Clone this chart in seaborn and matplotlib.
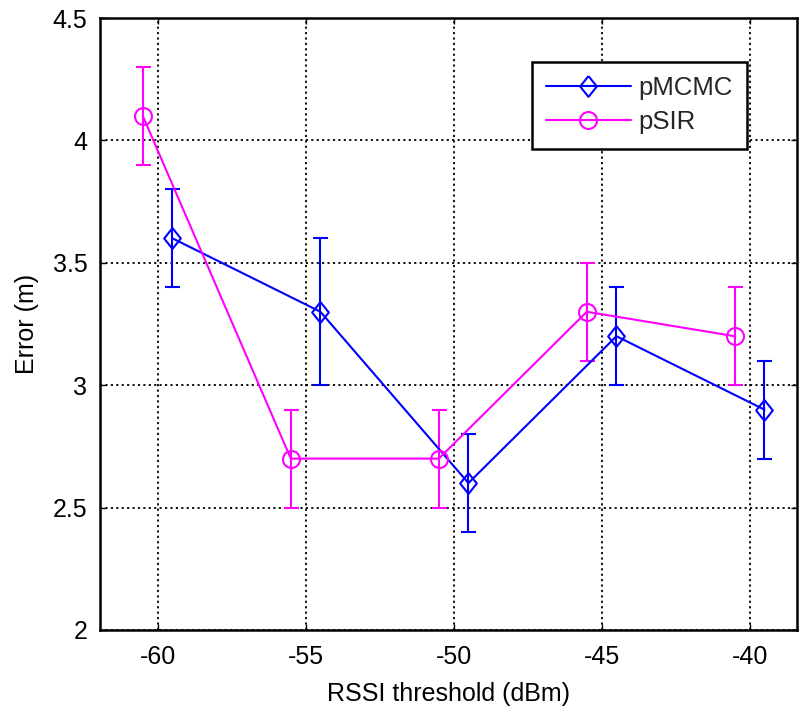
import matplotlib
matplotlib.use("Agg")
import matplotlib.pyplot as plt
import seaborn as sns
import pandas as pd

sns.set_theme(style="white")
plt.rcParams['font.family'] = ['Liberation Sans', 'DejaVu Sans']
plt.rcParams['axes.unicode_minus'] = False

mcmc_x = [-59.5, -54.5, -49.5, -44.5, -39.5]
mcmc_y = [3.6, 3.3, 2.6, 3.2, 2.9]
mcmc_err = [0.2, 0.3, 0.2, 0.2, 0.2]
sir_x = [-60.5, -55.5, -50.5, -45.5, -40.5]
sir_y = [4.1, 2.7, 2.7, 3.3, 3.2]
sir_err = [0.2, 0.2, 0.2, 0.2, 0.2]
xticks = [-60, -55, -50, -45, -40]
yticks = [2, 2.5, 3, 3.5, 4, 4.5]

df = pd.concat([
    pd.DataFrame({"x": mcmc_x, "y": mcmc_y, "s": "pMCMC"}),
    pd.DataFrame({"x": sir_x, "y": sir_y, "s": "pSIR"}),
])

fig = plt.figure(figsize=(7.99, 7.07), dpi=100)
ax = fig.add_axes([0.125, 0.109, 0.8725, 0.8655])

diamond = [(0, 1), (0.8, 0), (0, -1), (-0.8, 0), (0, 1)]
colors = {"pMCMC": "#0000ff", "pSIR": "#ff00ff"}
sns.lineplot(data=df, x="x", y="y", hue="s", style="s", palette=colors,
             markers={"pMCMC": "D", "pSIR": "o"}, dashes=False,
             markersize=12, markeredgewidth=1.5,
             linewidth=1.5, ax=ax, zorder=4)


def style_line(line):
    line.set_markerfacecolor("none")
    line.set_markeredgecolor(line.get_color())
    line.set_markeredgewidth(1.5)
    if line.get_marker() == "D":
        line.set_marker(diamond)
        line.set_markersize(15)
    elif line.get_marker() == "o":
        line.set_markersize(12.2)


for line in list(ax.lines):
    style_line(line)

ax.errorbar(mcmc_x, mcmc_y, yerr=mcmc_err, fmt='none', ecolor=colors["pMCMC"],
            elinewidth=1.5, capsize=5.4, capthick=1.5, zorder=3)
ax.errorbar(sir_x, sir_y, yerr=sir_err, fmt='none', ecolor=colors["pSIR"],
            elinewidth=1.5, capsize=5.4, capthick=1.5, zorder=3)

ax.set_xlim(-61.95, -38.4)
ax.set_ylim(2, 4.5)
ax.set_xticks(xticks)
ax.set_yticks(yticks)
ax.set_yticklabels(["2", "2.5", "3", "3.5", "4", "4.5"])
ax.set_xlabel("RSSI threshold (dBm)", fontsize=18, color="black", labelpad=9)
ax.set_ylabel("Error (m)", fontsize=18, color="black", labelpad=10)
ax.tick_params(axis="both", direction="in", length=4, width=1, colors="black",
               labelsize=18, top=True, right=True, bottom=True, left=True, pad=9)
ax.tick_params(axis="x", pad=11)
ax.grid(True, color="black", linestyle=(0, (1.2, 1.8)), linewidth=1.3)
for sp in ax.spines.values():
    sp.set_color("black")
    sp.set_linewidth(1.8)

handles, labels = ax.get_legend_handles_labels()
for h in handles:
    style_line(h)
leg = ax.legend(handles, labels, loc="upper right",
                bbox_to_anchor=(747 / 799, 1 - 62 / 707), bbox_transform=fig.transFigure,
                fontsize=18.5, frameon=True, fancybox=False, edgecolor="black",
                framealpha=1, handlelength=3.3, handletextpad=0.3,
                borderpad=0.55, labelspacing=0.4, borderaxespad=0)
leg.get_frame().set_linewidth(1.8)

fig.savefig("out.png", dpi=100)
